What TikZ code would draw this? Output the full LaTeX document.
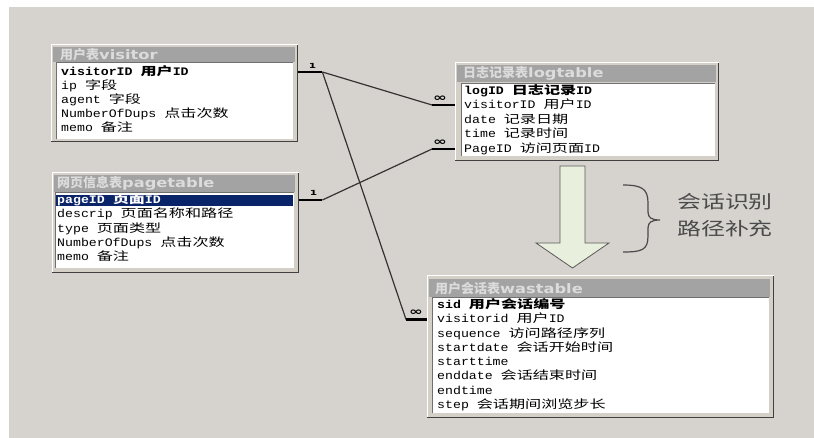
\documentclass[tikz,border=0pt]{standalone}
\usepackage{fontspec}
% Field lists: monospaced Latin, wide CJK
\newfontfamily\latf[FakeStretch=1.15]{Liberation Mono}
\newfontfamily\zhf[FakeStretch=1.4]{Noto Sans CJK SC}
% Table captions
\newfontfamily\ttlzh{Noto Sans CJK SC}
\newfontfamily\ttlla[FakeStretch=1.25]{DejaVu Sans}
% Relationship marks and side note
\newfontfamily\symf[FakeStretch=1.5]{DejaVu Sans}
\newfontfamily\notef[FakeStretch=1.33]{Noto Sans CJK SC}
\newcommand\zh[1]{{\zhf #1}}
\newcommand\tl[1]{{\ttlla #1}}

\definecolor{bgc}{HTML}{D6D3CE}
\definecolor{framec}{HTML}{D4D0C8}
\definecolor{barc}{HTML}{A3A3A3}
\definecolor{ttxtc}{HTML}{DCDCDC}
\definecolor{shdc}{HTML}{404040}
\definecolor{sunkc}{HTML}{707070}
\definecolor{selc}{HTML}{0A246A}
\definecolor{linkc}{HTML}{333333}
\definecolor{arrowc}{HTML}{E9EFDD}
\definecolor{notec}{HTML}{4A4A4A}

\tikzset{
  tframe/.style={fill=framec, draw=none, inner sep=0pt, anchor=north west},
  tbar/.style={fill=barc, draw=none, inner sep=0pt, anchor=north west},
  tlist/.style={fill=white, draw=none, inner sep=0pt, anchor=north west},
  tsel/.style={fill=selc, draw=none, inner sep=0pt, anchor=north west},
  ttext/.style={text=ttxtc, anchor=west, inner sep=0pt,
    font=\ttlzh\bfseries\fontsize{13pt}{15pt}\selectfont},
  row/.style={anchor=west, inner sep=0pt, text height=9pt, text depth=2.5pt,
    font=\latf\fontsize{11.5pt}{13pt}\selectfont},
  keyrow/.style={row, font=\latf\bfseries\fontsize{11.5pt}{13pt}\selectfont},
  hi/.style={draw=white, line width=1pt},
  shd/.style={draw=shdc, line width=1.6pt},
  sunk/.style={draw=sunkc, line width=1pt},
  link/.style={draw=linkc, line width=1.2pt},
  stub/.style={draw=black, line width=2.6pt},
  card/.style={inner sep=0pt, font=\symf\bfseries\fontsize{7pt}{8pt}\selectfont},
  many/.style={inner sep=0pt, font=\symf\bfseries\fontsize{11pt}{12pt}\selectfont},
  bigarrow/.style={fill=arrowc, draw=black!65, line width=0.8pt, line join=miter},
  bracel/.style={draw=notec, line width=1.2pt},
  note/.style={text=notec, align=center, inner sep=0pt,
    font=\notef\fontsize{18pt}{27pt}\selectfont},
}

% raised 3D border of a table window
\newcommand\raisededges[1]{%
  \draw[hi] (#1.south west) -- (#1.north west) -- (#1.north east);
  \draw[shd] ([shift={(-0.8,0)}]#1.north east) -- ([shift={(-0.8,-0.8)}]#1.south east)
    -- ([shift={(0,-0.8)}]#1.south west);}
% sunken border of a field list
\newcommand\sunkenedges[1]{%
  \draw[sunk] (#1.south west) -- (#1.north west) -- (#1.north east);}

\begin{document}
\begin{tikzpicture}[x=1pt, y=-1pt]
\useasboundingbox (0,0) rectangle (814,438);
\fill[white] (0,0) rectangle (814,438);
\fill[bgc] (9,7) rectangle (814,438);

% ---- table: visitor ----
\node[tframe, minimum width=247pt, minimum height=97pt] (vis) at (51,45) {};
\raisededges{vis}
\node[tbar, minimum width=242pt, minimum height=15pt] (vis-bar) at (53,47) {};
\node[ttext] (vis-title) at ([xshift=7pt]vis-bar.west) {用户表\tl{visitor}};
\node[tlist, minimum width=237pt, minimum height=76pt] (vis-list) at (56,63) {};
\sunkenedges{vis-list}
\node[keyrow] (vis-r1) at (61,72) {visitorID \zh{用户}ID};
\node[row] (vis-r2) at (61,86) {ip \zh{字段}};
\node[row] (vis-r3) at (61,100) {agent \zh{字段}};
\node[row] (vis-r4) at (61,114) {NumberOfDups \zh{点击次数}};
\node[row] (vis-r5) at (61,128) {memo \zh{备注}};

% ---- table: pagetable ----
\node[tframe, minimum width=247pt, minimum height=100pt] (pag) at (52,173) {};
\raisededges{pag}
\node[tbar, minimum width=241pt, minimum height=17pt] (pag-bar) at (54,175) {};
\node[ttext] (pag-title) at ([xshift=3pt]pag-bar.west) {网页信息表\tl{pagetable}};
\node[tlist, minimum width=239pt, minimum height=75pt] (pag-list) at (55,193) {};
\sunkenedges{pag-list}
\node[tsel, minimum width=237pt, minimum height=11pt] (pag-sel) at (56,195) {};
\node[keyrow, text=white] (pag-r1) at (57,200) {pageID \zh{页面}ID};
\node[row] (pag-r2) at (57,214.5) {descrip \zh{页面名称和路径}};
\node[row] (pag-r3) at (57,229) {type \zh{页面类型}};
\node[row] (pag-r4) at (57,243) {NumberOfDups \zh{点击次数}};
\node[row] (pag-r5) at (57,257) {memo \zh{备注}};

% ---- table: logtable ----
\node[tframe, minimum width=264pt, minimum height=98pt] (log) at (455,63) {};
\raisededges{log}
\node[tbar, minimum width=259pt, minimum height=17pt] (log-bar) at (457,65) {};
\node[ttext] (log-title) at ([xshift=6pt]log-bar.west) {日志记录表\tl{logtable}};
\node[tlist, minimum width=254pt, minimum height=72pt] (log-list) at (461,84) {};
\sunkenedges{log-list}
\node[keyrow] (log-r1) at (464,91) {logID \zh{日志记录}ID};
\node[row] (log-r2) at (464,105) {visitorID \zh{用户}ID};
\node[row] (log-r3) at (464,120) {date \zh{记录日期}};
\node[row] (log-r4) at (464,134) {time \zh{记录时间}};
\node[row] (log-r5) at (464,149) {PageID \zh{访问页面}ID};

% ---- table: wastable ----
\node[tframe, minimum width=347pt, minimum height=142pt] (was) at (427,276) {};
\raisededges{was}
\node[tbar, minimum width=341pt, minimum height=18pt] (was-bar) at (429,279) {};
\node[ttext] (was-title) at ([xshift=6pt]was-bar.west) {用户会话表\tl{wastable}};
\node[tlist, minimum width=337pt, minimum height=115pt] (was-list) at (432,298) {};
\sunkenedges{was-list}
\node[keyrow] (was-r1) at (437,305) {sid \zh{用户会话编号}};
\node[row] (was-r2) at (437,319.5) {visitorid \zh{用户}ID};
\node[row] (was-r3) at (437,334) {sequence \zh{访问路径序列}};
\node[row] (was-r4) at (437,348) {startdate \zh{会话开始时间}};
\node[row] (was-r5) at (437,362) {starttime};
\node[row] (was-r6) at (437,376.5) {enddate \zh{会话结束时间}};
\node[row] (was-r7) at (437,391) {endtime};
\node[row] (was-r8) at (437,405) {step \zh{会话期间浏览步长}};

% ---- relationships ----
\coordinate (v-out) at ([xshift=24pt]vis.east |- vis-r1.west);
\coordinate (p-out) at ([xshift=23pt]pag.east |- pag-r1.west);
\coordinate (l-in1) at ([xshift=-23pt]log.west |- log-r2.west);
\coordinate (l-in2) at ([xshift=-23pt]log.west |- log-r5.west);
\coordinate (w-in) at ([xshift=-21pt]was.west |- was-r2.west);

\draw[link] (v-out) -- (l-in1);
\draw[link] (p-out) -- (l-in2);
\draw[link] (v-out) -- (w-in);
\draw[stub] (vis.east |- v-out) -- (v-out);
\draw[stub] (pag.east |- p-out) -- (p-out);
\draw[stub] (l-in1) -- (log.west |- l-in1);
\draw[stub] (l-in2) -- (log.west |- l-in2);
\draw[stub] (w-in) -- (was.west |- w-in);

\node[card] (c1) at ([shift={(-10,-6)}]v-out) {1};
\node[card] (c2) at ([shift={(-9,-7)}]p-out) {1};
\node[many] (m1) at ([shift={(8,-6)}]l-in1) {∞};
\node[many] (m2) at ([shift={(8,-6)}]l-in2) {∞};
\node[many] (m3) at ([shift={(10,-7)}]w-in) {∞};

% ---- processing step ----
\draw[bigarrow] (560,166) -- (585,166) -- (585,243) -- (609,243) -- (572.5,268)
  -- (536,243) -- (560,243) -- cycle;
\draw[bracel] (623,185) .. controls (642,185) and (648,189) .. (648,203)
  -- (648,212) .. controls (648,218) and (652,220) .. (660,220)
  .. controls (652,220) and (648,222) .. (648,228)
  -- (648,236) .. controls (648,250) and (642,252) .. (623,252);
\node[note] (lbl) at (725,215.5) {会话识别\\路径补充};
\end{tikzpicture}
\end{document}
